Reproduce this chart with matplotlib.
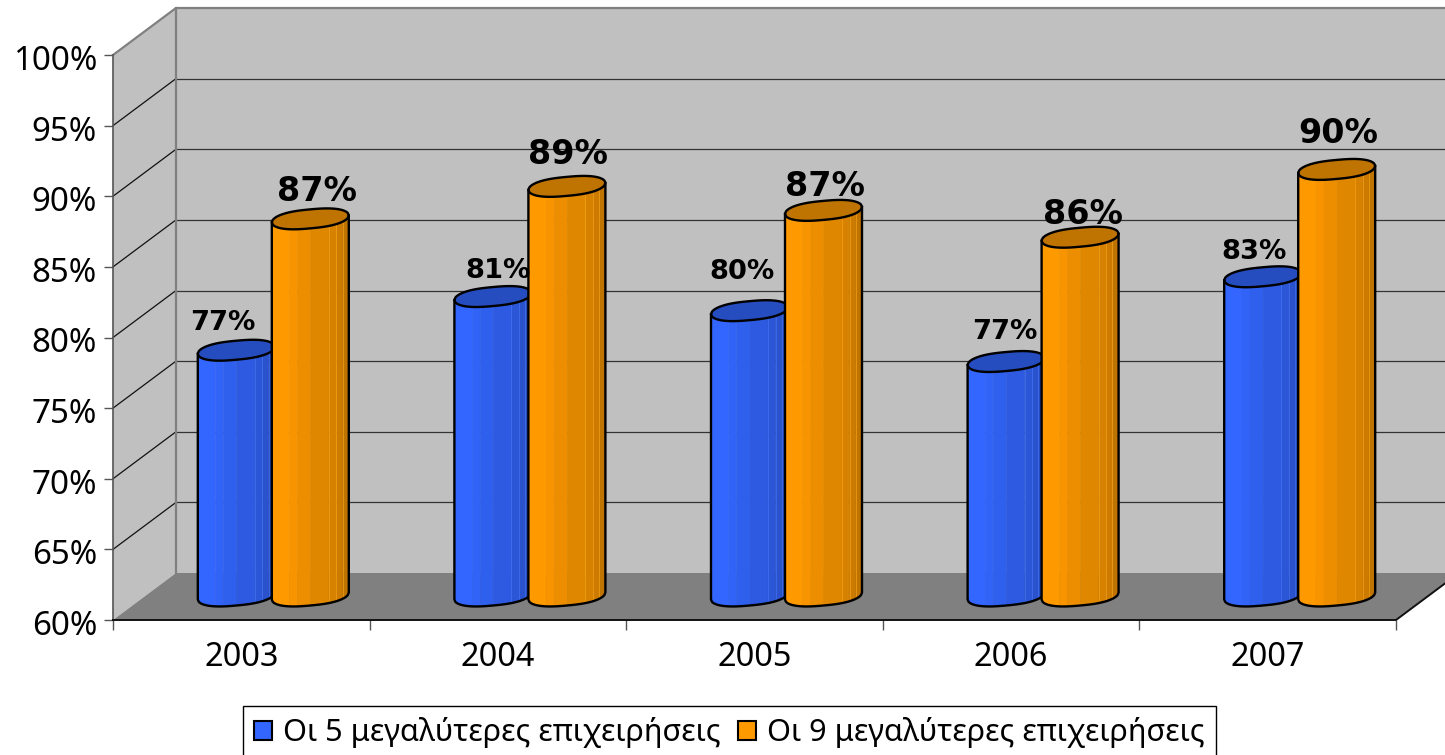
import numpy as np
import matplotlib
matplotlib.use("Agg")
import matplotlib.pyplot as plt
from matplotlib.patches import Polygon, Patch
from matplotlib.colors import to_rgb
from matplotlib.transforms import Affine2D

# ---------- data ----------
years = ["2003", "2004", "2005", "2006", "2007"]
top5_values = [77.4, 81.2, 80.2, 76.6, 82.6]
top9_values = [86.7, 89.0, 87.3, 85.4, 90.2]
top5_labels = ["77%", "81%", "80%", "77%", "83%"]
top9_labels = ["87%", "89%", "87%", "86%", "90%"]
series_names = ["Οι 5 μεγαλύτερες επιχειρήσεις", "Οι 9 μεγαλύτερες επιχειρήσεις"]
y_ticks = [60, 65, 70, 75, 80, 85, 90, 95, 100]

# ---------- layout (pixels) ----------
W, H = 1445, 755
LEFT, RIGHT, BOTTOM, TOP = 113, 1396, 620, 55
PX_X = (RIGHT - LEFT) / 5
PX_Y = (BOTTOM - TOP) / 40
WALL_DX, WALL_DY = 63 / PX_X, 47 / PX_Y          # wall depth in data units
BAR_DX, BAR_DY = 32 / PX_X, 24 / PX_Y            # bar depth in data units
HALF_W = 38.5 / PX_X
GROUP_SHIFT = 37 / PX_X
ELL_B, ELL_S = 9.5 / PX_Y, 3.5 / PX_Y
top5_label_offsets = [(-13, 27), (5, 26), (-8, 39), (-1, 30), (-9, 25)]
top9_label_offsets = [(7, 27), (1, 32), (1, 24), (3, 23), (1, 36)]

BLUE, ORANGE = "#3366FF", "#FF9900"
WALL, FLOOR = "#C0C0C0", "#808080"
STRIPE_EDGES = [0, .23, .335, .505, .74, .84, .92, 1]
STRIPE_SHADES = [1, .97, .93, .88, .84, .80, .75]
HILITE_AT = [.74, .84, .92]

plt.rcParams["font.family"] = "Noto Sans"
fig = plt.figure(figsize=(W / 100, H / 100), dpi=100)
ax = fig.add_axes([LEFT / W, (H - BOTTOM) / H, (RIGHT - LEFT) / W, (BOTTOM - TOP) / H])
ax.set_xlim(0, 5)
ax.set_ylim(60, 100)
ax.patch.set_visible(False)
for s in ax.spines.values():
    s.set_visible(False)

# ---------- ticks ----------
ax.set_yticks(y_ticks)
ax.set_yticklabels([f"{v}%" for v in y_ticks], fontsize=23.8)
ax.tick_params(axis="y", length=6.5, width=1, color="#555555", pad=5)
ax.set_xticks(range(6))
ax.set_xticklabels([""] * 6)
ax.tick_params(axis="x", which="major", length=7.5, width=1, color="#555555")
ax.set_xticks(np.arange(5) + .5, minor=True)
ax.set_xticklabels(years, minor=True, fontsize=23.4)
ax.tick_params(axis="x", which="minor", length=0, pad=15)
for t in ax.get_yticklabels():
    t.set_verticalalignment("center_baseline")
    t.set_transform(t.get_transform() + Affine2D().translate(0, -2.5))


def poly(pts, **kw):
    kw.setdefault("clip_on", False)
    p = Polygon(pts, closed=True, **kw)
    ax.add_patch(p)
    return p


# ---------- walls ----------
poly([(0, 60), (0, 100), (WALL_DX, 100 + WALL_DY), (WALL_DX, 60 + WALL_DY)],
     fc=WALL, ec="none", zorder=1)
poly([(WALL_DX, 60 + WALL_DY), (WALL_DX, 100 + WALL_DY),
      (5 + WALL_DX, 100 + WALL_DY), (5 + WALL_DX, 60 + WALL_DY)],
     fc=WALL, ec="none", zorder=1)
poly([(0, 60), (5, 60), (5 + WALL_DX, 60 + WALL_DY), (WALL_DX, 60 + WALL_DY)],
     fc=FLOOR, ec="none", zorder=1.5)

for v in y_ticks[1:-1]:
    ax.plot([0, WALL_DX], [v, v + WALL_DY], color="#111111", lw=.9, zorder=2, clip_on=False)
    ax.plot([WALL_DX, 5 + WALL_DX], [v + WALL_DY] * 2, color="#333333", lw=.9, zorder=2, clip_on=False)
ax.plot([0, WALL_DX, 5 + WALL_DX], [100, 100 + WALL_DY, 100 + WALL_DY], color=FLOOR, lw=1.6, zorder=2, clip_on=False)
ax.plot([WALL_DX, WALL_DX], [60 + WALL_DY, 100 + WALL_DY], color=FLOOR, lw=1.6, zorder=2, clip_on=False)
ax.plot([0, 0], [60, 100], color="#555555", lw=1.2, zorder=2.5, clip_on=False)
ax.plot([0, 5, 5 + WALL_DX], [60, 60, 60 + WALL_DY], color="#111111", lw=1.4, zorder=2.5, clip_on=False)


# ---------- cylinders ----------
def curve(cx, y0, xs, sign):
    u = (xs - cx) / HALF_W
    return y0 + sign * ELL_B * np.sqrt(np.clip(1 - np.abs(u) ** 2.6, 0, 1)) + ELL_S * u


def cylinder(cx_cat, value, color, z):
    cx = cx_cat + BAR_DX
    y_base, y_top = 60 + BAR_DY, value + BAR_DY
    rgb = np.array(to_rgb(color))
    for i, shade in enumerate(STRIPE_SHADES):
        x0 = cx - HALF_W + 2 * HALF_W * STRIPE_EDGES[i]
        x1 = cx - HALF_W + 2 * HALF_W * STRIPE_EDGES[i + 1]
        xs = np.linspace(x0, x1, 12)
        pts = np.r_[np.c_[xs, curve(cx, y_top, xs, -1)],
                    np.c_[xs[::-1], curve(cx, y_base, xs[::-1], -1)]]
        c = tuple(rgb * shade)
        poly(pts, fc=c, ec=c, lw=.3, zorder=z)
    for f in HILITE_AT:
        xf = np.array([cx - HALF_W + 2 * HALF_W * f])
        ax.plot([xf[0], xf[0]], [curve(cx, y_base, xf, -1)[0], curve(cx, y_top, xf, -1)[0]],
                color=tuple(np.minimum(rgb * .97 + .08, 1)), lw=.6, alpha=.7, zorder=z + .01, clip_on=False)
    xs = np.linspace(cx - HALF_W, cx + HALF_W, 80)
    front_top = curve(cx, y_top, xs, -1)
    back_top = curve(cx, y_top, xs, 1)
    front_base = curve(cx, y_base, xs, -1)
    poly(np.r_[np.c_[xs, front_top], np.c_[xs[::-1], back_top[::-1]]],
         fc=tuple(rgb * .75), ec="black", lw=1.7, joinstyle="round", zorder=z + .02)
    outline_x = np.r_[xs[0], xs, xs[-1]]
    outline_y = np.r_[front_top[0], front_base, front_top[-1]]
    ax.plot(outline_x, outline_y, color="black", lw=1.7, zorder=z + .02, clip_on=False)


for i in range(5):
    c = i + .5
    cylinder(c - GROUP_SHIFT, top5_values[i], BLUE, 3 + i * .2)
    cylinder(c + GROUP_SHIFT, top9_values[i], ORANGE, 3.1 + i * .2)

# ---------- data labels ----------
for i in range(5):
    c = i + .5
    ax.annotate(top5_labels[i], (c - GROUP_SHIFT + BAR_DX, top5_values[i] + BAR_DY),
                xytext=top5_label_offsets[i], textcoords="offset pixels", family="DejaVu Sans",
                ha="center", va="center", fontsize=19.6, fontweight="bold", zorder=10, annotation_clip=False)
    ax.annotate(top9_labels[i], (c + GROUP_SHIFT + BAR_DX, top9_values[i] + BAR_DY),
                xytext=top9_label_offsets[i], textcoords="offset pixels", family="DejaVu Sans",
                ha="center", va="center", fontsize=24, fontweight="bold", zorder=10, annotation_clip=False)

# ---------- legend ----------
handles = [Patch(fc=BLUE, ec="black", lw=1.5), Patch(fc=ORANGE, ec="black", lw=1.5)]
leg = fig.legend(handles, series_names, ncol=2, loc="upper left",
                 bbox_to_anchor=(243 / W, (H - 706) / H), bbox_transform=fig.transFigure,
                 fontsize=22.1, frameon=True, fancybox=False, edgecolor="black", framealpha=1,
                 borderaxespad=0, borderpad=.36, handlelength=.59, handleheight=.59,
                 handletextpad=.36, columnspacing=.55)
leg.get_frame().set_linewidth(1.0)

fig.savefig("out.png", dpi=100)
